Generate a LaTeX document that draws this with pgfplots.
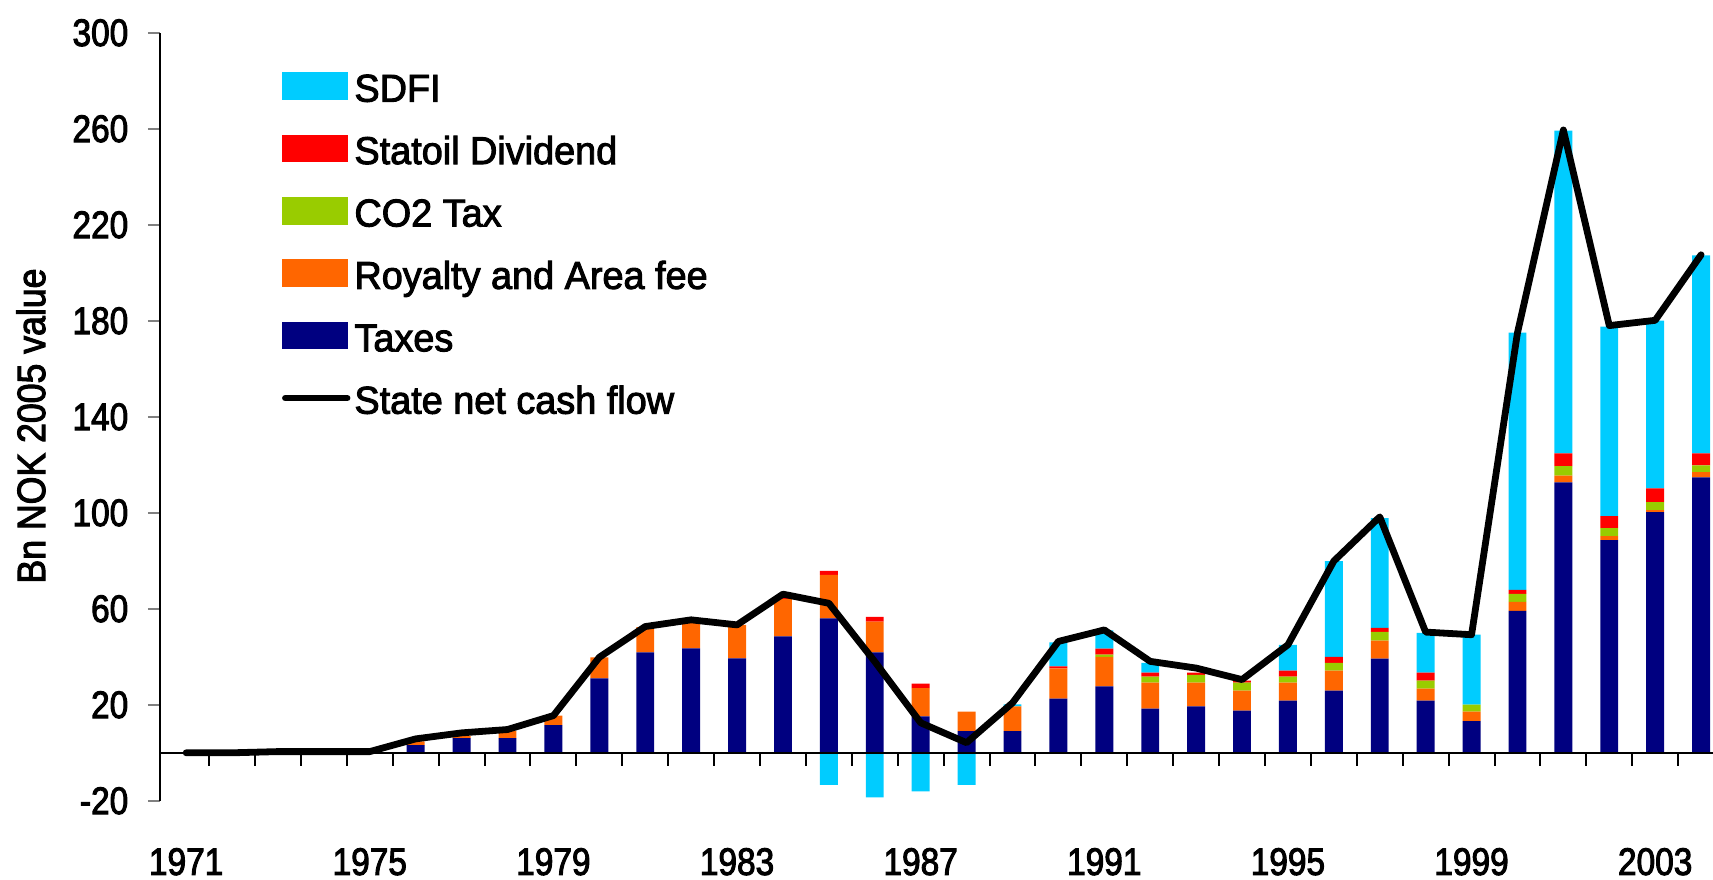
\documentclass[border=0pt]{standalone}
\usepackage{pgfplots}
\pgfplotsset{compat=1.18}
\usepackage{pgfplotstable}
\usetikzlibrary{calc}
\usepackage{fontspec}
\setmainfont{Liberation Sans}[FakeStretch=0.87, FakeBold=2.5]
\newfontfamily\legfont{Liberation Sans}[FakeStretch=0.975, FakeBold=2.5]
\newfontfamily\labfont{Liberation Sans}[FakeStretch=0.90, FakeBold=2.5]
\definecolor{sdfi}{HTML}{00CCFF}
\definecolor{statoil}{HTML}{FF0000}
\definecolor{cotwo}{HTML}{99CC00}
\definecolor{royalty}{HTML}{FF6600}
\definecolor{taxes}{HTML}{000080}

\pgfplotstableread{
x T R C D S N L
0 0 0 0 0 0 0 0
1 0 0 0 0 0 0 0
2 0 0 0 0 0 0 0.5
3 0 0 0 0 0 0 0.5
4 0 0 0 0 0 0 0.5
5 3.2 1.6 0 0 0 0 5.8
6 6.1 0.8 0 0 0 0 8.3
7 6.1 2.9 0 0 0 0 9.7
8 11.5 4.0 0 0 0 0 15.5
9 31.0 8.8 0 0 0 0 39.8
10 41.8 10.6 0 0 0 0 52.6
11 43.5 10.8 0 0 0 0 55.4
12 39.3 14.0 0 0 0 0 53.3
13 48.5 15.6 0 0.8 0 0 66.1
14 56.0 18.1 0 1.7 0 -13.4 62.3
15 41.8 12.9 0 1.9 0 -18.6 38.0
16 15.2 11.7 0 1.9 0 -16.1 12.5
17 9.0 8.2 0 0 0 -13.4 4.2
18 9.0 10.3 0 0 0.9 0 20.8
19 22.6 12.6 0 0.8 10.0 0 46.4
20 27.7 12.3 0.9 2.5 7.6 0 51.2
21 18.4 10.8 2.5 1.7 4.1 0 38.1
22 19.3 9.9 3.3 0.9 0 0 35.3
23 17.6 8.3 3.3 0.9 0 0 30.5
24 21.7 7.5 2.5 2.5 10.8 0 45.0
25 25.9 8.3 3.3 2.5 39.9 0 79.9
26 39.2 7.5 3.7 1.7 45.7 0 98.3
27 21.7 5.0 3.4 3.3 16.6 0 50.3
28 13.2 4.0 2.9 0 29.1 0 49.2
29 59.1 3.8 3.3 1.7 107.2 0 175.0
30 112.7 2.8 3.9 5.4 134.4 0 259.5
31 88.6 1.7 3.3 5.0 79.0 0 178.0
32 100.3 0.8 3.3 5.8 69.9 0 180.2
33 114.8 2.1 2.9 5.0 82.5 0 207.5
}\datatable

\begin{document}
\begin{tikzpicture}
\pgfplotsset{common/.style={scale only axis, width=388.25pt, height=192pt,
  xmin=-0.57, xmax=33.26, ymin=-20, ymax=300}}
\begin{axis}[common, name=main,
  ybar stacked, bar width=0.39,
  axis y line*=left, axis x line*=bottom,
  x axis line style={draw=none}, xtick style={draw=none},
  y axis line style={line width=0.5pt},
  ytick style={line width=0.5pt},
  ytick align=outside, major tick length=3pt,
  xtick={0,4,...,32},
  xticklabels={1971,1975,1979,1983,1987,1991,1995,1999,2003},
  ytick={-20,20,...,300},
  /pgf/number format/assume math mode=true,
  tick label style={font=\fontsize{9.6}{11}\selectfont},
  xticklabel style={anchor=north, yshift=-8.3pt},
  yticklabel style={anchor=east, xshift=-1.4pt},
  ylabel={Bn NOK 2005 value},
  ylabel style={font=\labfont\fontsize{9.9}{11}\selectfont,
    at={(axis description cs:-0.0831,0.488)}, anchor=center},
  legend style={draw=none, fill=none, at={(axis description cs:0.0786,0.952)},
    anchor=north west, inner sep=0pt, outer sep=0pt, row sep=4.6pt,
    font=\legfont\fontsize{9.7}{11}\selectfont,
    nodes={inner sep=1pt, text height=7pt, text depth=2pt}},
  legend cell align=left,
]
\addplot[fill=taxes, draw=none, forget plot] table[x=x, y=T]{\datatable};
\addplot[fill=royalty, draw=none, forget plot] table[x=x, y=R]{\datatable};
\addplot[fill=cotwo, draw=none, forget plot] table[x=x, y=C]{\datatable};
\addplot[fill=statoil, draw=none, forget plot] table[x=x, y=D]{\datatable};
\addplot[fill=sdfi, draw=none, forget plot] table[x=x, y=S]{\datatable};
\addlegendimage{legend image code/.code={\fill[sdfi] (0pt,-1.85pt) rectangle (16pt,4.65pt);}}
\addlegendentry{SDFI}
\addlegendimage{legend image code/.code={\fill[statoil] (0pt,-1.85pt) rectangle (16pt,4.65pt);}}
\addlegendentry{Statoil Dividend}
\addlegendimage{legend image code/.code={\fill[cotwo] (0pt,-1.85pt) rectangle (16pt,4.65pt);}}
\addlegendentry{CO2 Tax}
\addlegendimage{legend image code/.code={\fill[royalty] (0pt,-1.85pt) rectangle (16pt,4.65pt);}}
\addlegendentry{Royalty and Area fee}
\addlegendimage{legend image code/.code={\fill[taxes] (0pt,-1.85pt) rectangle (16pt,4.65pt);}}
\addlegendentry{Taxes}
\addlegendimage{legend image code/.code={\draw[black, line width=1.6pt, line cap=round] (0.5pt,1.4pt) -- (16pt,1.4pt);}}
\addlegendentry{State net cash flow}
\end{axis}
\begin{axis}[common, hide axis]
\addplot[ybar, bar width=0.39, fill=sdfi, draw=none, forget plot] table[x=x, y=N]{\datatable};
\draw[line width=0.5pt] (axis cs:-0.57,0) -- (axis cs:33.26,0);
\pgfplotsinvokeforeach{0.5,1.5,...,32.5}{\draw[line width=0.5pt] (axis cs:#1,0) -- ([yshift=-3.2pt]axis cs:#1,0);}
\addplot[sharp plot, mark=none, black, line width=1.7pt, line join=round, line cap=round, forget plot] table[x=x, y=L]{\datatable};
\end{axis}
\pgfresetboundingbox
\path[use as bounding box] ($(main.south west)+(-40pt,-19.6pt)$) rectangle ($(main.north east)+(0pt,8.2pt)$);
\end{tikzpicture}
\end{document}
